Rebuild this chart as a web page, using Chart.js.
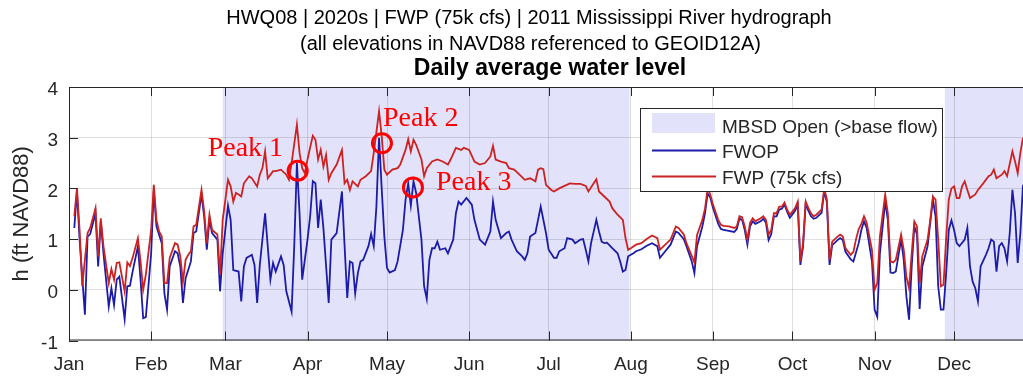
<!DOCTYPE html>
<html>
<head>
<meta charset="utf-8">
<title>Daily average water level</title>
<script src="https://cdn.jsdelivr.net/npm/chart.js@4.4.0/dist/chart.umd.min.js"></script>
<style>
    html, body { margin: 0; padding: 0; background: #ffffff; overflow: hidden; }
    #wrap { position: relative; width: 1023px; height: 378px; }
</style>
</head>
<body>
<div id="wrap"><canvas id="hydrographChart"></canvas></div>
<script>
// Chart.js Configuration
Chart.defaults.font.family = '"Liberation Sans", Arial, Helvetica, sans-serif';
Chart.defaults.color = "#262626";

const colors = {
    fwop: "#1c1ca8", // Blue
    fwp: "#cc2222", // Red
    open: "#e2e2fb", // Lavender (diversion open)
    axis: "#262626",
    grid: "rgba(38, 38, 38, 0.15)",
    peak: "#ff0000",
};

// Day of year (0 = Jan 1, 2011) for each month tick
const monthStarts = [0, 31, 59, 90, 120, 151, 181, 212, 243, 273, 304, 334];
const monthLabels = ["Jan", "Feb", "Mar", "Apr", "May", "Jun", "Jul", "Aug", "Sep", "Oct", "Nov", "Dec"];
const levelTicks = [-1, 0, 1, 2, 3, 4];

// Periods with the MBSD open above base flow (day of year)
const openStart = [58, 330.5];
const openEnd = [211.5, 366];

// FWOP - future without project
const fwopDay = [
    2, 3, 4, 6, 7, 8, 10, 11, 12, 13, 15, 16, 17, 18, 19, 21, 22, 23, 24, 26, 27, 28, 29, 31, 32, 33, 35, 36, 37, 38,
    40, 41, 42, 43, 44, 46, 47, 48, 50, 51, 52, 53, 54, 56, 57, 58, 60, 61, 62, 64, 65, 66, 67, 69, 70, 71, 72, 74, 76, 77,
    78, 80, 81, 82, 84, 85, 86, 87, 88, 90, 91, 92, 93, 94, 95, 96, 98, 99, 101, 103, 104, 105, 106, 107, 108, 109, 110, 111, 113, 114,
    115, 116, 117, 118, 119, 120, 121, 123, 124, 126, 127, 128, 129, 130, 131, 133, 134, 135, 136, 137, 138, 139, 140, 142, 143, 145, 146, 147, 148, 150,
    152, 153, 155, 157, 159, 160, 161, 163, 165, 166, 167, 169, 171, 172, 173, 174, 176, 177, 178, 180, 181, 183, 184, 185, 187, 188, 190, 191, 193, 194,
    195, 196, 197, 199, 200, 201, 202, 203, 205, 207, 208, 209, 210, 211, 213, 214, 216, 218, 220, 222, 223, 225, 227, 229, 230, 232, 233, 235, 236, 237,
    239, 240, 241, 242, 243, 245, 246, 247, 249, 251, 252, 253, 254, 255, 256, 257, 258, 259, 261, 262, 263, 264, 265, 266, 267, 268, 269, 270, 271, 272,
    274, 275, 276, 277, 278, 279, 280, 281, 282, 284, 285, 286, 287, 288, 290, 291, 292, 293, 295, 296, 298, 299, 300, 301, 303, 304, 305, 306, 308, 309,
    310, 311, 312, 314, 315, 316, 317, 318, 319, 320, 321, 322, 324, 325, 326, 327, 328, 329, 330, 331, 332, 333, 334, 335, 336, 338, 339, 340, 341, 342,
    343, 344, 346, 347, 348, 349, 350, 351, 352, 353, 354, 355, 356, 357, 358, 359, 360, 361,
];
const fwopLevel = [
    1.22, 1.94, 0.99, -0.49, 1.05, 1.1, 1.51, 0.46, 1.35, 0.72, -0.33, 0.03, -0.3, 0.2, 0.26, -0.58, 0.07, 0.08, 0.36, 0.86, 0.2, -0.56, -0.54, 0.72, 1.97, 1.25, 0.92, -0.07, -0.39, 0.46,
    0.76, 0.72, 0.46, -0.26, 0.23, 0.56, 1.12, 1.15, 1.88, 1.45, 0.79, 1.38, 1.12, 0.99, -0.03, 0.72, 1.66, 1.38, 0.39, 0.36, -0.23, 0.46, 0.63, 0.69, 0.49, -0.26, 0.49, 1.51, 0.2, 0.53,
    0.36, 0.66, 0.49, -0.03, -0.43, 0.86, 2.5, 1.51, 0.2, 0.99, 1.45, 2.14, 2.1, 1.22, 1.78, 1.22, -0.26, 0.99, 1.12, 1.94, 0.86, -0.16, 0.56, 0.53, -0.07, 0.33, 0.56, 0.59, 0.86, 1.1,
    0.86, 1.64, 3.0, 2.0, 1.05, 0.43, 0.34, 0.39, 0.56, 1.18, 1.78, 2.1, 1.66, 2.14, 1.91, 0.99, 0.07, -0.18, 0.59, 0.82, 0.82, 0.95, 0.79, 0.82, 0.72, 0.99, 1.51, 1.74, 1.68, 1.81,
    1.68, 1.38, 0.99, 0.89, 1.15, 1.74, 1.38, 1.02, 1.12, 1.15, 0.99, 0.76, 0.66, 0.59, 0.72, 1.05, 1.12, 1.38, 1.64, 1.12, 0.79, 0.63, 0.63, 0.76, 0.82, 1.02, 0.99, 0.92, 0.99, 1.0,
    0.79, 0.56, 0.92, 1.38, 1.15, 0.95, 0.92, 0.93, 0.82, 0.72, 0.56, 0.36, 0.39, 0.66, 0.72, 0.76, 0.8, 0.87, 0.92, 0.86, 0.63, 0.76, 0.89, 1.15, 1.12, 1.0, 0.86, 0.56, 0.33, 0.86,
    1.25, 1.51, 1.9, 1.82, 1.62, 1.3, 1.2, 1.18, 1.16, 1.14, 1.2, 1.4, 1.38, 1.18, 0.89, 1.25, 1.35, 1.3, 1.35, 1.4, 1.32, 0.98, 1.1, 1.45, 1.45, 1.58, 1.6, 1.68, 1.54, 1.42,
    1.56, 1.68, 0.49, 0.85, 1.7, 1.56, 1.45, 1.4, 1.42, 1.52, 1.95, 1.72, 0.49, 0.88, 0.98, 1.02, 0.98, 0.75, 0.6, 0.56, 0.92, 1.18, 1.35, 1.22, 0.56, -0.39, -0.53, 0.72, 1.74, 1.38,
    0.34, 0.33, 0.36, 0.99, 0.59, -0.13, -0.59, 0.46, 1.25, 1.09, -0.38, 0.46, 0.86, 1.32, 1.78, 1.45, 0.07, -0.39, -0.39, 0.33, 1.18, 1.37, 1.18, 0.92, 0.86, 0.99, 1.22, 0.46, 0.16, 0.03,
    -0.23, 0.46, 0.69, 0.82, 0.99, 0.95, 0.36, 0.86, 0.92, 0.82, 0.56, 1.12, 1.97, 1.51, 0.53, 1.12, 2.07, 2.0,
];

// FWP - future with project (75k cfs)
const fwpDay = [
    2, 3, 4, 5, 7, 8, 10, 11, 12, 13, 15, 16, 17, 18, 19, 21, 22, 23, 24, 26, 27, 28, 29, 31, 32, 33, 34, 35, 36, 37,
    38, 40, 41, 42, 43, 44, 45, 46, 47, 48, 50, 51, 52, 53, 54, 56, 57, 58, 60, 61, 62, 63, 64, 65, 66, 67, 68, 69, 71, 72,
    73, 74, 75, 77, 78, 80, 82, 83, 84, 86, 87, 88, 89, 90, 92, 93, 94, 95, 96, 97, 98, 99, 101, 103, 104, 105, 106, 107, 109, 110,
    112, 114, 115, 117, 118, 119, 120, 122, 124, 125, 127, 128, 129, 130, 131, 133, 134, 135, 137, 139, 141, 143, 144, 146, 148, 149, 151, 153, 155, 157,
    159, 160, 161, 163, 165, 166, 168, 170, 172, 174, 176, 177, 178, 179, 180, 182, 183, 185, 187, 189, 191, 193, 195, 196, 198, 199, 200, 202, 204, 205,
    207, 209, 210, 211, 212, 214, 216, 218, 220, 222, 223, 225, 227, 229, 230, 232, 233, 236, 237, 239, 240, 241, 242, 243, 245, 246, 247, 249, 251, 252,
    253, 254, 255, 256, 257, 258, 259, 261, 262, 263, 264, 265, 266, 267, 268, 269, 270, 271, 272, 274, 275, 276, 277, 278, 279, 280, 281, 282, 284, 285,
    286, 287, 288, 290, 291, 292, 293, 295, 296, 297, 298, 299, 300, 301, 303, 304, 305, 306, 308, 309, 310, 311, 312, 314, 315, 316, 317, 318, 319, 320,
    321, 322, 324, 325, 326, 327, 328, 329, 330, 331, 332, 333, 334, 335, 336, 337, 338, 339, 340, 342, 343, 345, 347, 348, 349, 350, 352, 353, 354, 356,
    357, 358, 359, 360, 361,
];
const fwpLevel = [
    1.45, 2.0, 1.18, 0.07, 1.12, 1.22, 1.61, 0.66, 1.41, 0.86, 0.13, 0.41, 0.2, 0.53, 0.54, -0.03, 0.54, 0.47, 0.63, 1.02, 0.56, 0.0, 0.3, 1.18, 2.07, 1.38, 1.15, 1.05, 0.13, 0.13,
    0.63, 0.92, 0.89, 0.66, 0.16, 0.59, 0.69, 0.76, 1.25, 1.28, 1.97, 1.55, 0.92, 1.48, 1.18, 1.09, 0.3, 1.38, 2.17, 2.04, 1.74, 1.91, 1.88, 1.84, 2.1, 2.17, 2.24, 2.2, 2.04, 2.27,
    2.4, 2.73, 2.2, 2.34, 2.34, 2.37, 2.27, 2.17, 2.5, 3.26, 2.7, 2.4, 2.3, 2.57, 3.04, 2.96, 2.57, 2.76, 2.43, 2.66, 2.17, 2.3, 2.47, 2.76, 2.1, 2.17, 1.97, 2.14, 2.04, 2.17,
    2.24, 2.34, 2.7, 3.52, 3.03, 2.37, 2.27, 2.37, 2.4, 2.47, 2.76, 2.97, 2.73, 2.96, 2.86, 2.57, 2.24, 2.4, 2.53, 2.57, 2.53, 2.47, 2.57, 2.8, 2.76, 2.8, 2.76, 2.53, 2.47, 2.5,
    2.63, 2.84, 2.57, 2.53, 2.5, 2.4, 2.37, 2.27, 2.17, 2.2, 2.14, 2.37, 2.4, 2.38, 2.07, 1.97, 1.94, 2.0, 2.05, 2.1, 2.09, 2.09, 2.05, 1.94, 2.1, 2.18, 1.94, 1.84, 1.74, 1.61,
    1.48, 1.38, 1.02, 0.79, 0.82, 0.89, 0.92, 1.0, 1.07, 1.02, 0.79, 0.89, 0.99, 1.25, 1.22, 1.09, 0.92, 0.54, 1.08, 1.38, 1.6, 2.0, 1.88, 1.68, 1.38, 1.28, 1.26, 1.25, 1.22, 1.25,
    1.45, 1.43, 1.25, 0.99, 1.32, 1.41, 1.35, 1.41, 1.45, 1.38, 1.09, 1.18, 1.51, 1.51, 1.64, 1.64, 1.72, 1.58, 1.48, 1.61, 1.74, 0.56, 0.92, 1.74, 1.61, 1.51, 1.45, 1.48, 1.58, 2.0,
    1.78, 0.59, 0.95, 1.05, 1.09, 1.05, 0.82, 0.69, 0.75, 1.0, 1.2, 1.3, 1.45, 1.32, 0.79, 0.0, 0.13, 1.05, 1.88, 1.51, 0.56, 0.54, 0.59, 1.09, 0.79, 0.26, 0.03, 0.72, 1.35, 1.25,
    0.13, 0.66, 0.99, 1.38, 1.84, 1.78, 0.99, 0.07, 0.1, 1.02, 1.78, 2.0, 2.04, 1.81, 1.81, 2.04, 2.14, 1.97, 1.81, 1.88, 1.97, 2.1, 2.24, 2.27, 2.37, 2.2, 2.27, 2.34, 2.24, 2.73,
    2.53, 2.3, 2.7, 3.0, 2.95,
];

// Marked peaks
const peakLabels = ["Peak 1", "Peak 2", "Peak 3"];
const peakDay = [86.3, 118.1, 129.8];
const peakLevel = [2.35, 2.89, 2.02];

const titleLines = [
    "HWQ08 | 2020s | FWP (75k cfs) | 2011 Mississippi River hydrograph",
    "(all elevations in NAVD88 referenced to GEOID12A)",
    "Daily average water level",
];

function toPoints(days, levels) {
    return days.map((d, i) => ({ x: d, y: levels[i] }));
}

// Shaded bands for the open periods, behind the grid
const openShading = {
    id: "openShading",
    beforeDraw(chart) {
        const { ctx, chartArea: a, scales: { x } } = chart;
        ctx.save();
        ctx.fillStyle = colors.open;
        openStart.forEach((start, i) => {
            const x0 = Math.max(x.getPixelForValue(start), a.left);
            const x1 = Math.min(x.getPixelForValue(openEnd[i]), a.right);
            ctx.fillRect(x0, a.top, x1 - x0, a.bottom - a.top);
        });
        ctx.restore();
    },
};

// Box lines and inward tick marks
const axesFrame = {
    id: "axesFrame",
    afterDatasetsDraw(chart) {
        const { ctx, chartArea: a, scales: { x, y } } = chart;
        const len = 9;
        ctx.save();
        ctx.strokeStyle = colors.axis;
        ctx.lineWidth = 1;
        ctx.beginPath();
        ctx.moveTo(a.left, a.top + 0.5);
        ctx.lineTo(a.right, a.top + 0.5);
        ctx.moveTo(a.left, a.bottom - 0.5);
        ctx.lineTo(a.right, a.bottom - 0.5);
        ctx.moveTo(a.left + 0.5, a.top);
        ctx.lineTo(a.left + 0.5, a.bottom);
        monthStarts.forEach((d) => {
            const px = Math.round(x.getPixelForValue(d)) + 0.5;
            ctx.moveTo(px, a.bottom);
            ctx.lineTo(px, a.bottom - len);
            ctx.moveTo(px, a.top);
            ctx.lineTo(px, a.top + len);
        });
        levelTicks.forEach((v) => {
            const py = Math.round(y.getPixelForValue(v)) + 0.5;
            ctx.moveTo(a.left, py);
            ctx.lineTo(a.left + len, py);
        });
        ctx.stroke();
        ctx.restore();
    },
};

// Text next to each peak marker
const peakText = {
    id: "peakText",
    afterDatasetsDraw(chart, args, opts) {
        const { ctx } = chart;
        const meta = chart.getDatasetMeta(2);
        ctx.save();
        ctx.font = '28px "Liberation Serif", "Times New Roman", serif';
        ctx.fillStyle = colors.peak;
        ctx.textBaseline = "alphabetic";
        meta.data.forEach((pt, i) => {
            const [dx, dy] = opts.offsets[i];
            ctx.fillText(peakLabels[i], pt.x + dx, pt.y + dy);
        });
        ctx.restore();
    },
};

// Legend box inside the axes
const boxLegend = {
    id: "boxLegend",
    afterDraw(chart) {
        const { ctx } = chart;
        const left = 640.5, top = 108.5, w = 302, h = 83;
        ctx.save();
        ctx.fillStyle = "#ffffff";
        ctx.fillRect(left, top, w, h);
        ctx.strokeStyle = colors.axis;
        ctx.lineWidth = 1;
        ctx.strokeRect(left, top, w, h);

        ctx.fillStyle = colors.open;
        ctx.fillRect(652, 113, 63, 20);

        ctx.lineWidth = 1.8;
        ctx.strokeStyle = colors.fwop;
        ctx.beginPath();
        ctx.moveTo(652, 150.5);
        ctx.lineTo(716, 150.5);
        ctx.stroke();
        ctx.strokeStyle = colors.fwp;
        ctx.beginPath();
        ctx.moveTo(652, 176.5);
        ctx.lineTo(716, 176.5);
        ctx.stroke();

        ctx.fillStyle = colors.axis;
        ctx.font = '19px "Liberation Sans", Arial, sans-serif';
        ctx.textBaseline = "alphabetic";
        ctx.fillText("MBSD Open (>base flow)", 722, 132.5);
        ctx.fillText(chart.data.datasets[0].label, 722, 157.5);
        ctx.fillText(chart.data.datasets[1].label, 722, 184);
        ctx.restore();
    },
};

// Three title lines above the axes
const titleBlock = {
    id: "titleBlock",
    afterDraw(chart) {
        const { ctx } = chart;
        ctx.save();
        ctx.fillStyle = "#000000";
        ctx.textAlign = "center";
        ctx.textBaseline = "alphabetic";
        ctx.font = '20px "Liberation Sans", Arial, sans-serif';
        ctx.fillText(titleLines[0], 529, 23.5);
        ctx.fillText(titleLines[1], 530.5, 50);
        ctx.font = 'bold 23px "Liberation Sans", Arial, sans-serif';
        ctx.fillText(titleLines[2], 550, 75);
        ctx.restore();
    },
};

const hydrographCtx = document.getElementById("hydrographChart").getContext("2d");
new Chart(hydrographCtx, {
    type: "line",
    data: {
        datasets: [
            {
                label: "FWOP",
                data: toPoints(fwopDay, fwopLevel),
                borderColor: colors.fwop,
                borderWidth: 1.8,
                pointRadius: 0,
                tension: 0,
                order: 2,
            },
            {
                label: "FWP (75k cfs)",
                data: toPoints(fwpDay, fwpLevel),
                borderColor: colors.fwp,
                borderWidth: 1.8,
                pointRadius: 0,
                tension: 0,
                order: 1,
            },
            {
                label: "Peaks",
                data: toPoints(peakDay, peakLevel),
                showLine: false,
                pointRadius: 9.5,
                pointBorderWidth: 3,
                pointBackgroundColor: "rgba(0, 0, 0, 0)",
                pointBorderColor: colors.peak,
                order: 0,
            },
        ],
    },
    options: {
        responsive: true,
        maintainAspectRatio: false,
        animation: false,
        events: [],
        layout: {
            autoPadding: false,
            padding: { top: 87, right: 0, bottom: 0, left: 0 },
        },
        plugins: {
            legend: { display: false },
            tooltip: { enabled: false },
            peakText: {
                offsets: [[-90, -15], [1, -17], [23, 2.5]],
            },
        },
        scales: {
            x: {
                type: "linear",
                min: 0,
                max: 360,
                afterBuildTicks: (scale) => {
                    scale.ticks = monthStarts.map((d) => ({ value: d }));
                },
                afterFit: (scale) => {
                    scale.height = 37.5;
                    scale.paddingLeft = 0;
                    scale.paddingRight = 0;
                },
                ticks: {
                    callback: (value, index) => monthLabels[index],
                    font: { size: 19 },
                    padding: 13,
                    autoSkip: false,
                    maxRotation: 0,
                },
                grid: {
                    color: colors.grid,
                    drawTicks: false,
                },
                border: { display: false },
            },
            y: {
                min: -1,
                max: 4,
                afterBuildTicks: (scale) => {
                    scale.ticks = levelTicks.map((v) => ({ value: v }));
                },
                afterFit: (scale) => {
                    scale.width = 69;
                    scale.paddingTop = 0;
                    scale.paddingBottom = 0;
                },
                ticks: {
                    font: { size: 19 },
                    padding: 11,
                    labelOffset: 3,
                },
                grid: {
                    color: colors.grid,
                    drawTicks: false,
                },
                border: { display: false },
                title: {
                    display: true,
                    text: "h (ft NAVD88)",
                    font: { size: 22 },
                    color: colors.axis,
                    padding: { top: 9, bottom: 0 },
                },
            },
        },
    },
    plugins: [openShading, axesFrame, peakText, boxLegend, titleBlock],
});
</script>
</body>
</html>
